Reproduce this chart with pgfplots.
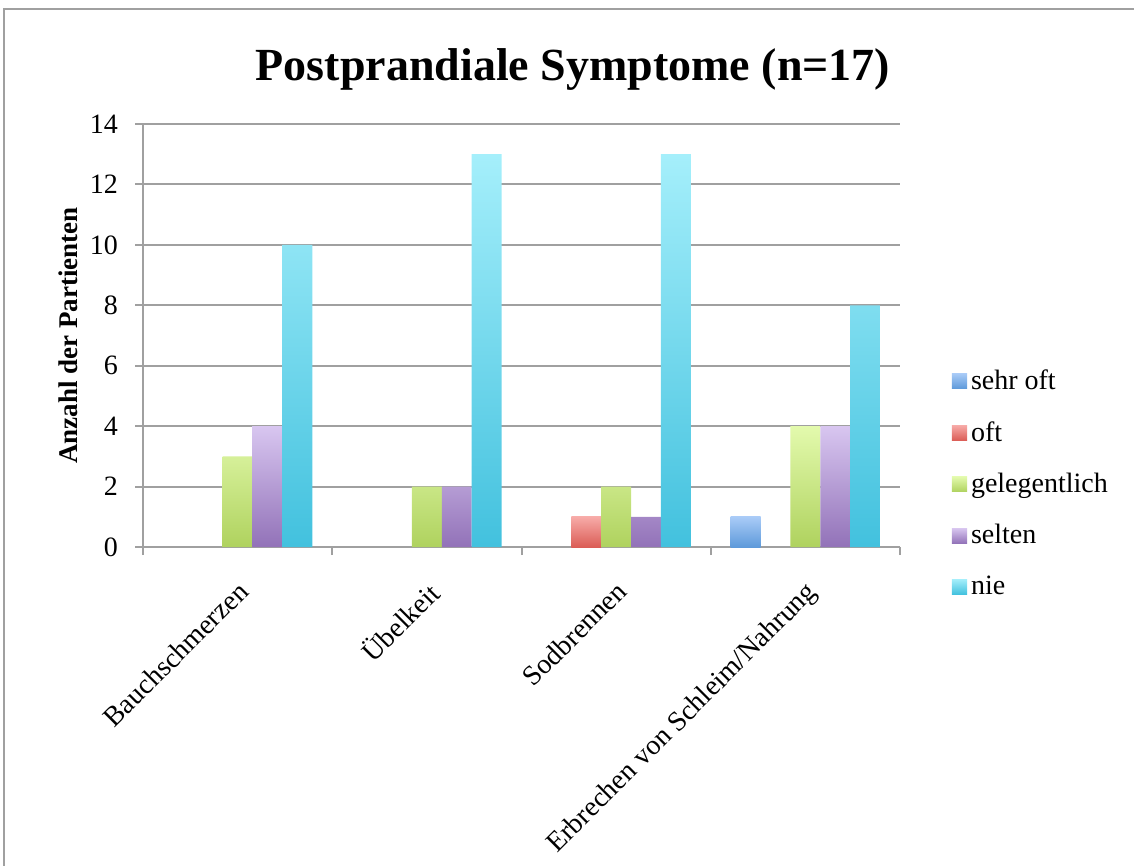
\documentclass[border=0pt]{standalone}
\usepackage{fontspec}
\setmainfont{Liberation Serif}
\usepackage{pgfplots}
\pgfplotsset{compat=1.18}

% bar colours: light at the top, darker at the bottom
\definecolor{sehrTop}{HTML}{A9CBF7}
\definecolor{sehrBot}{HTML}{5E9ADA}
\definecolor{oftTop}{HTML}{F7ABA8}
\definecolor{oftBot}{HTML}{DB5D56}
\definecolor{gelTop}{HTML}{E3FAAD}
\definecolor{gelBot}{HTML}{AFD25E}
\definecolor{selTop}{HTML}{D8C6F0}
\definecolor{selBot}{HTML}{9272B8}
\definecolor{nieTop}{HTML}{A5EFFB}
\definecolor{nieBot}{HTML}{42C1DE}
\definecolor{gridgray}{HTML}{A0A0A0}

\pgfplotsset{
  gradbar/.style n args={3}{
    draw=none, top color=#1, bottom color=#2, bar shift=#3,
    legend image code/.code={\path[draw=none, top color=#1, bottom color=#2] (0pt,-3.8pt) rectangle (7.6pt,3.8pt);}
  }
}

\begin{document}
\begin{tikzpicture}
\path[use as bounding box] (0,0) rectangle (567pt,-433pt);
\draw[gridgray, line width=1pt] (2pt,-433pt) -- (2pt,-4.5pt) -- (567pt,-4.5pt);

\node[font=\fontsize{23}{27}\selectfont\bfseries] at (286.5pt,-35pt) {Postprandiale Symptome (n=17)};

\begin{axis}[
  at={(71.5pt,-273.5pt)}, anchor=south west,
  scale only axis, width=378.5pt, height=211.5pt,
  ybar, bar width=0.158,
  xmin=-0.5, xmax=3.5, ymin=0, ymax=14,
  xtick={0,1,2,3},
  xticklabels={Bauchschmerzen, Übelkeit, Sodbrennen, Erbrechen von Schleim/Nahrung},
  minor xtick={-0.5,0.5,1.5,2.5,3.5},
  ytick={0,2,...,14},
  axis x line*=bottom, axis y line*=left,
  axis line style={gridgray, line width=1pt, -},
  tick align=outside,
  major tick length=4pt, minor tick length=4pt,
  major x tick style={draw=none},
  minor x tick style={gridgray, line width=1pt},
  ytick style={gridgray, line width=1pt},
  ymajorgrids, major grid style={gridgray, line width=1pt},
  /pgf/number format/assume math mode=true,
  tick label style={font=\fontsize{14}{16}\selectfont, black},
  yticklabel style={xshift=-5pt},
  xticklabel style={rotate=45, anchor=north east, inner sep=1pt, xshift=-8pt, yshift=-7pt},
  ylabel={Anzahl der Partienten},
  ylabel style={font=\fontsize{13.5}{16}\selectfont\bfseries, at={(axis description cs:-0.099,0.5)}, anchor=center},
  legend style={at={(1.06,0.15)}, anchor=west, draw=none, fill=none,
    font=\fontsize{14}{16}\selectfont, row sep=10.5pt},
  legend cell align=left,
]
\addplot[gradbar={sehrTop}{sehrBot}{-0.316}] coordinates {(3,1)};
\addplot[gradbar={oftTop}{oftBot}{-0.158}] coordinates {(2,1)};
\addplot[gradbar={gelTop}{gelBot}{0}] coordinates {(0,3) (1,2) (2,2) (3,4)};
\addplot[gradbar={selTop}{selBot}{0.158}] coordinates {(0,4) (1,2) (2,1) (3,4)};
\addplot[gradbar={nieTop}{nieBot}{0.316}] coordinates {(0,10) (1,13) (2,13) (3,8)};
\legend{sehr oft, oft, gelegentlich, selten, nie}
\end{axis}
\end{tikzpicture}
\end{document}
